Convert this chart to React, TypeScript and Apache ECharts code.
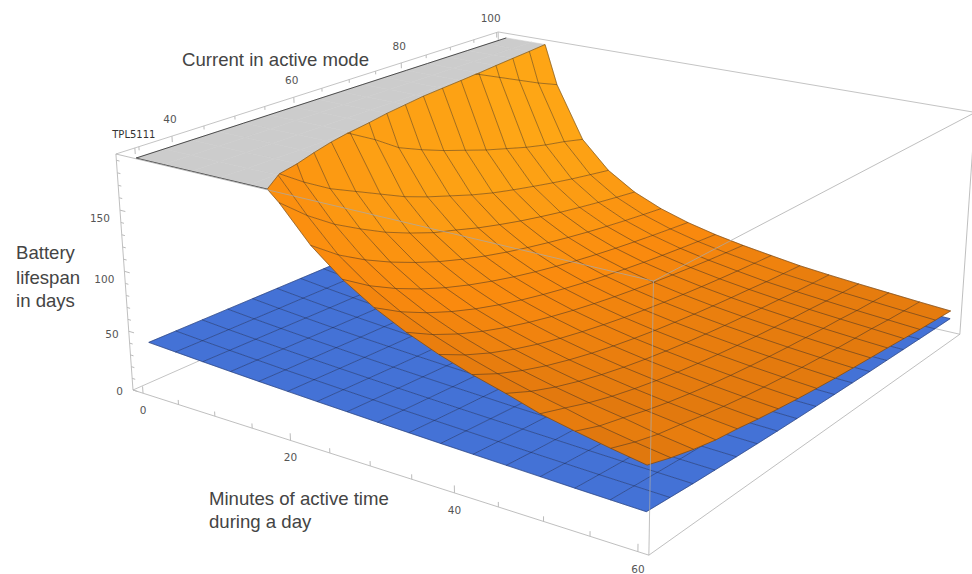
import React, { useEffect, useRef } from "react";
import * as echarts from "echarts";

const minutes = [0,3.75,7.5,11.25,15,18.75,22.5,26.25,30,33.75,37.5,41.25,45,48.75,52.5,56.25,60];
const currents = [33,37.19,41.38,45.56,49.75,53.94,58.13,62.31,66.5,70.69,74.88,79.06,83.25,87.44,91.63,95.81,100];
const orangeDays = [
[1350,1350,1350,1350,1350,1350,1350,1350,1350,1350,1350,1350,1350,1350,1350,1350,1350],
[594,554,520,489,462,438,416,396,378,362,347,333,320,259,252,245,233],
[380,349,322,299,279,261,246,232,220,209,203,197,190,181,172,163,155],
[280,254,240,215,200,190,178,164,155,147,140,133,127,121,116,112,107],
[205,193,178,165,155,145,135,127,120,113,107,102,97.4,93,89,85.5,82.1],
[183,165,150,138,127,118,110,104,97.6,92.2,87.3,83,79,75.5,72.2,69.2,66.4],
[156,140,127.5,117,108,100,93.3,87.4,82.2,77.7,73.6,69.9,66.5,63.5,60.7,58.2,55.8],
[136,122,110.8,101.4,93.4,86.6,80.8,75.6,71.1,67.1,63.5,60.3,57.4,54.8,52.4,50.2,48.1],
[120.6,108,97.9,89.5,82.4,76.4,71.2,66.7,62.7,59.1,55.9,53.1,50.5,48.2,46.1,44.1,42.3],
[108.3,96.9,87.7,80.2,73.8,68.4,63.7,59.6,56,52.8,50,47.4,45.1,43,41.1,39.4,37.8],
[98.2,87.9,79.5,72.6,66.8,61.8,57.6,53.9,50.6,47.7,45.1,42.8,40.7,38.8,37.1,35.5,34.1],
[89.9,80.4,72.7,66.3,61,56.4,52.5,49.1,46.1,43.5,41.1,39,37.1,35.4,33.4,31.9,30.5],
[82.9,74,66.9,61.1,56.1,51.9,48.3,45.2,42.4,40,37.8,35.9,34.1,32.5,30.7,29.3,28],
[75,68.6,62,56.5,52,48.1,44.7,41.8,39.3,37,35,33.2,31.5,30.1,28.4,27,25.8],
[69.5,62.5,57.8,52.7,48.4,44.8,41.6,38.9,36.5,34.4,32.5,30.9,29.3,28,26.2,25,23.8],
[64.5,58,52.8,49.3,45.3,41.9,38.9,36.4,34.2,32.2,30.4,28.8,27.4,26.1,24.3,23,21.8],
[60,54,49,45,42.5,39.3,36.6,34.2,32.1,30.2,28.6,27.1,25.7,24,22.4,21.2,20],
];
const blueDays = [
[40,40,40,40,40,40,40,40,40,40,40,40,40,40,40,40,40],
[38.7,38.4,38.2,38,37.8,37.6,37.4,37.2,37,36.8,36.6,36.4,36.2,36,35.8,35.6,35.4],
[37.4,37,36.6,36.2,35.8,35.4,35.1,34.7,34.4,34,33.7,33.3,33,32.7,32.4,32.1,31.8],
[36.2,35.7,35.1,34.6,34,33.5,33,32.6,32.1,31.7,31.2,30.8,30.4,30,29.6,29.2,28.8],
[35.1,34.4,33.7,33.1,32.4,31.8,31.2,30.7,30.1,29.6,29.1,28.6,28.1,27.7,27.2,26.8,26.4],
[34.1,33.3,32.5,31.7,31,30.3,29.6,29,28.4,27.8,27.2,26.7,26.2,25.7,25.2,24.7,24.3],
[33.1,32.2,31.3,30.4,29.6,28.9,28.2,27.5,26.8,26.2,25.6,25,24.5,24,23.5,23,22.5],
[32.2,31.2,30.2,29.3,28.4,27.6,26.8,26.1,25.4,24.8,24.1,23.6,23,22.5,21.9,21.5,21],
[31.3,30.2,29.2,28.2,27.3,26.4,25.6,24.9,24.2,23.5,22.8,22.2,21.7,21.1,20.6,20.1,19.7],
[30.5,29.3,28.2,27.2,26.2,25.3,24.5,23.7,23,22.3,21.7,21.1,20.5,20,19.4,19,18.5],
[29.7,28.5,27.3,26.2,25.3,24.4,23.5,22.7,22,21.3,20.6,20,19.4,18.9,18.4,17.9,17.4],
[29,27.7,26.5,25.4,24.4,23.4,22.6,21.8,21,20.3,19.7,19.1,18.5,18,17.4,17,16.5],
[28.3,26.9,25.7,24.6,23.5,22.6,21.7,20.9,20.2,19.5,18.8,18.2,17.6,17.1,16.6,16.1,15.7],
[27.6,26.2,24.9,23.8,22.8,21.8,20.9,20.1,19.4,18.7,18,17.4,16.8,16.3,15.8,15.4,14.9],
[26.9,25.5,24.2,23.1,22,21.1,20.2,19.4,18.6,17.9,17.3,16.7,16.1,15.6,15.1,14.7,14.2],
[26.3,24.9,23.6,22.4,21.3,20.4,19.5,18.7,17.9,17.3,16.6,16,15.5,15,14.5,14,13.6],
[25.7,24.3,22.9,21.8,20.7,19.7,18.8,18,17.3,16.6,16,15.4,14.9,14.4,13.9,13.4,13],
];
const capDays = 191.3;
const tplCurrent = 34.4;
const minuteTicks = [0,5,10,15,20,25,30,35,40,45,50,55,60];
const minuteLabels = [0,20,40,60];
const currentTicks = [35,40,45,50,55,60,65,70,75,80,85,90,95,100];
const currentLabels = [40,60,80,100];
const dayTicks = [0,10,20,30,40,50,60,70,80,90,100,110,120,130,140,150,160,170,180,190];
const dayLabels = [0,50,100,150];

const U = (t:number)=>0.023+0.959*t/60;
const V = (c:number)=>0.02+(c-33)*0.975/67;
const W = (z:number)=>z/195;
function unit(u:number,v:number,w:number){
  const d=1-0.157*u+0.228*v-0.039*w;
  return [(133+414*u+481*v-21.6*w)/d,(390+78*u-110*v-242*w)/d];
}
const proj=(t:number,c:number,z:number)=>unit(U(t),V(c),W(z));
const mix=(a:number[],b:number[],f:number)=>a.map((x,i)=>Math.round(x+(b[i]-x)*f));
function shade(b:number){
  const s0=[222,118,14],s1=[250,138,14],s2=[254,168,22];
  const x=Math.max(0,b);
  const c=x<0.3?mix(s0,s1,x/0.3):mix(s1,s2,Math.min(1,(x-0.3)/0.45));
  return `rgb(${c[0]},${c[1]},${c[2]})`;
}
type N=[number,number,number];
function clip(poly:N[],below:boolean):N[]{
  const out:N[]=[];const inside=(p:N)=>below?p[2]<=capDays:p[2]>=capDays;
  for(let i=0;i<poly.length;i++){
    const a=poly[i],b=poly[(i+1)%poly.length];
    if(inside(a))out.push(a);
    if(inside(a)!==inside(b)){
      const f=(capDays-a[2])/(b[2]-a[2]);
      out.push([a[0]+(b[0]-a[0])*f,a[1]+(b[1]-a[1])*f,capDays]);
    }
  }
  return out;
}
const cells:[number,number][]=[];
for(let i=0;i<minutes.length-1;i++)for(let j=currents.length-2;j>=0;j--)cells.push([i,j]);
const nodeOf=(g:number[][],i:number,j:number):N=>[minutes[i],currents[j],g[i][j]];
const cellPoly=(g:number[][],i:number,j:number):N[]=>[nodeOf(g,i,j),nodeOf(g,i+1,j),nodeOf(g,i+1,j+1),nodeOf(g,i,j+1)];
function linesOf(g:number[][]){
  const r:N[][]=[];
  for(let i=0;i<minutes.length;i++)r.push(currents.map((_,j)=>nodeOf(g,i,j)));
  for(let j=0;j<currents.length;j++)r.push(minutes.map((_,i)=>nodeOf(g,i,j)));
  return r;
}
function clipLine(l:N[]):N[]{
  const out:N[]=[];
  for(let k=0;k<l.length;k++){
    const a=l[k];
    if(a[2]<=capDays)out.push(a);
    const b=l[k+1];
    if(b&&(a[2]<=capDays)!==(b[2]<=capDays)){
      const f=(capDays-a[2])/(b[2]-a[2]);
      out.push([a[0]+(b[0]-a[0])*f,a[1]+(b[1]-a[1])*f,capDays]);
    }
  }
  return out;
}
function cellShade(i0:number,j:number){
  let i=i0;
  while(i<minutes.length-2&&cellPoly(orangeDays,i,j).some(n=>n[2]>capDays))i++;
  const poly=cellPoly(orangeDays,i,j);
  const su=-((poly[1][2]+poly[2][2]-poly[0][2]-poly[3][2])/2/195)/(3.75*0.959/60);
  const sv=-((poly[2][2]+poly[3][2]-poly[0][2]-poly[1][2])/2/195)/(4.1875*0.975/67);
  return shade((0.8*su-0.5*sv)/Math.sqrt(1+su*su+sv*sv));
}
const boxCorners:Record<string,number[]>={A:[0,0,0],B:[1,0,0],C:[0,1,0],D:[1,1,0],a:[0,0,1],b:[1,0,1],c:[0,1,1],d:[1,1,1]};
const backEdges=["AC","CD","Cc","ac","cd"];
const frontEdges=["ab","bB","bd","dD","Aa","AB","BD"];

function base(name:string,data:any[],renderItem:any,z:number){
  return {type:"custom",name,coordinateSystem:"cartesian2d",data,renderItem,z,silent:true,clip:false,animation:false};
}
const pt=(api:any,p:number[])=>api.coord(p);
const edgeItem=(edges:string[],stroke:string)=>(params:any,api:any)=>{
  const e=edges[params.dataIndex];
  const [p,q]=[unit(...(boxCorners[e[0]] as [number,number,number])),unit(...(boxCorners[e[1]] as [number,number,number]))].map(x=>pt(api,x));
  return {type:"line",shape:{x1:p[0],y1:p[1],x2:q[0],y2:q[1]},style:{stroke,lineWidth:1,fill:"none"}};
};
const polyEl=(pts:number[][],fill:string)=>({type:"polygon",shape:{points:pts},style:{fill,stroke:fill,lineWidth:0.6}});
const orangeLines=linesOf(orangeDays);
const blueLines=linesOf(blueDays);
const dayLabelDy=(z:number)=>z>=100?8:z===50?3:1;
const capCurve=(l:N[])=>{
  const out:N[]=[];
  for(let k=0;k<l.length;k++){
    const a=l[k],b=l[k+1];
    if(a[2]>=capDays)out.push([a[0],a[1],capDays]);
    if(b&&a[2]>=capDays&&b[2]<capDays){
      const f=(capDays-a[2])/(b[2]-a[2]);
      out.push([a[0]+(b[0]-a[0])*f,a[1]+(b[1]-a[1])*f,capDays]);
    }
  }
  return out;
};
const grayEdges:N[][]=[orangeLines[0],capCurve(orangeLines[minutes.length])];

export default function App(){
  const ref=useRef<HTMLDivElement>(null);
  useEffect(()=>{
    const chart=echarts.init(ref.current!,undefined,{renderer:"svg"});
    const tickSeries=[
      ...minuteTicks.map(t=>({a:[U(t),0,0],b:[U(t),0,minuteLabels.includes(t)?0.03:0.02]})),
      ...currentTicks.map(c=>({a:[0,V(c),1],b:[0,V(c),currentLabels.includes(c)?0.975:0.985]})),
      ...dayTicks.map(z=>({a:[0,0,W(z)],b:[dayLabels.includes(z)?0.012:0.007,0,W(z)]})),
      {a:[0,V(tplCurrent),1],b:[0,V(tplCurrent),0.975]},
    ];
    const textEl=(x:number,y:number,text:string,align:string,fill="#555",size=10.5)=>({type:"text",x,y,style:{text,fill,font:`${size}px "DejaVu Sans"`,align,verticalAlign:"middle"}});
    const labels=[
      ...minuteLabels.map(t=>({p:[U(t),0,0],dx:0,dy:17,s:String(t),al:"center"})),
      ...currentLabels.map(c=>({p:[0,V(c),1],dx:c===100?-6:-2,dy:c===100?-14:-17,s:String(c),al:"center"})),
      ...dayLabels.map(z=>({p:[0,0,W(z)],dx:-10,dy:dayLabelDy(z),s:String(z),al:"right"})),
    ];
    const titleFont='"Liberation Sans"';
    const title=(x:number,y:number,text:string)=>({type:"text",x,y,style:{text,fill:"#444",font:`18.6px ${titleFont}`,verticalAlign:"middle"}});
    chart.setOption({
      animation:false,
      grid:{left:0,right:0,top:0,bottom:0},
      xAxis:{type:"value",min:0,max:972,show:false},
      yAxis:{type:"value",min:0,max:574,inverse:true,show:false},
      graphic:[
        title(182,59,"Current in active mode"),
        title(16,252,"Battery"),title(16,277,"lifespan"),title(16,300,"in days"),
        title(209,498,"Minutes of active time"),title(209,521,"during a day"),
      ],
      series:[
        base("boxBack",backEdges,edgeItem(backEdges,"#c4c4c4"),1),
        base("blue",cells,(p:any,api:any)=>{
          const [i,j]=cells[p.dataIndex];
          return polyEl(cellPoly(blueDays,i,j).map(n=>pt(api,proj(n[0],n[1],n[2]))),"#4472d6");
        },2),
        base("blueMesh",blueLines,(p:any,api:any)=>{
          const l=blueLines[p.dataIndex];
          return {type:"polyline",shape:{points:l.map(n=>pt(api,proj(n[0],n[1],n[2])))},style:{fill:"none",stroke:"rgba(25,35,70,0.5)",lineWidth:0.9}};
        },3),
        base("gray",cells,(p:any,api:any)=>{
          const [i,j]=cells[p.dataIndex];
          const g=clip(cellPoly(orangeDays,i,j),false);
          if(g.length<3)return {type:"group",children:[]};
          return polyEl(g.map(n=>pt(api,proj(n[0],n[1],capDays))),"#cccccc");
        },4),
        base("grayEdge",grayEdges,(p:any,api:any)=>{
          const l=grayEdges[p.dataIndex];
          return {type:"polyline",shape:{points:l.map(n=>pt(api,proj(n[0],n[1],capDays)))},style:{fill:"none",stroke:"rgba(50,50,50,0.85)",lineWidth:1}};
        },4.5),
        base("orange",cells,(p:any,api:any)=>{
          const [i,j]=cells[p.dataIndex];
          const g=clip(cellPoly(orangeDays,i,j),true);
          if(g.length<3)return {type:"group",children:[]};
          return polyEl(g.map(n=>pt(api,proj(n[0],n[1],n[2]))),cellShade(i,j));
        },5),
        base("orangeCapEdge",cells,(p:any,api:any)=>{
          const [i,j]=cells[p.dataIndex];
          const g=clip(cellPoly(orangeDays,i,j),true).filter(n=>n[2]===capDays);
          if(g.length!==2)return {type:"group",children:[]};
          const a=pt(api,proj(g[0][0],g[0][1],capDays)),b=pt(api,proj(g[1][0],g[1][1],capDays));
          return {type:"line",shape:{x1:a[0],y1:a[1],x2:b[0],y2:b[1]},style:{stroke:"rgba(60,50,40,0.55)",lineWidth:0.9}};
        },6),
        base("orangeMesh",orangeLines,(p:any,api:any)=>{
          const l=clipLine(orangeLines[p.dataIndex]);
          if(l.length<2)return {type:"group",children:[]};
          return {type:"polyline",shape:{points:l.map(n=>pt(api,proj(n[0],n[1],n[2])))},style:{fill:"none",stroke:"rgba(50,40,30,0.5)",lineWidth:0.9}};
        },6),
        base("boxFront",frontEdges,edgeItem(frontEdges,"rgba(170,170,170,0.75)"),7),
        base("ticks",tickSeries,(p:any,api:any)=>{
          const t=tickSeries[p.dataIndex];
          const a=pt(api,unit(t.a[0],t.a[1],t.a[2])),b=pt(api,unit(t.b[0],t.b[1],t.b[2]));
          return {type:"line",shape:{x1:a[0],y1:a[1],x2:b[0],y2:b[1]},style:{stroke:"#bbbbbb",lineWidth:1}};
        },8),
        base("labels",labels,(p:any,api:any)=>{
          const l=labels[p.dataIndex];
          const a=pt(api,unit(l.p[0],l.p[1],l.p[2]));
          return textEl(a[0]+l.dx,a[1]+l.dy,l.s,l.al);
        },9),
        base("tpl",["TPL5111"],(p:any,api:any)=>{
          const a=pt(api,unit(0,V(tplCurrent),1));
          return textEl(a[0]-1,a[1]-13,"TPL5111","center","#333",10);
        },9),
      ],
    });
    return ()=>chart.dispose();
  },[]);
  return <div ref={ref} style={{position:"fixed",left:0,top:0,width:972,height:574,background:"#fff"}}/>;
}
